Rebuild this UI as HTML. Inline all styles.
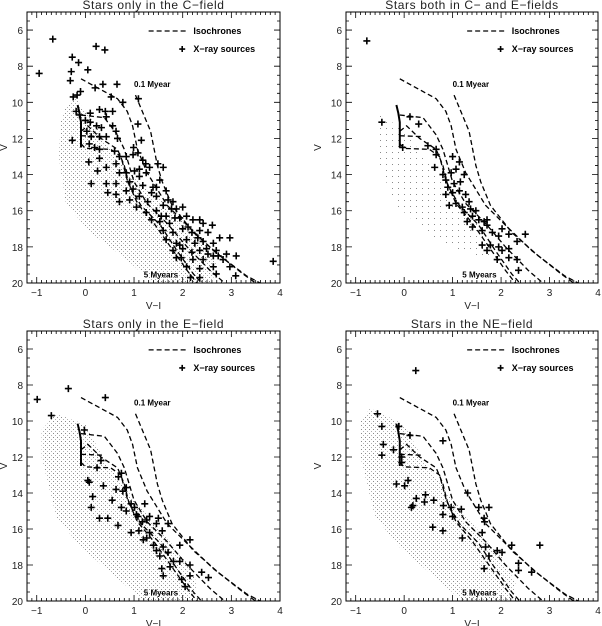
<!DOCTYPE html>
<html><head><meta charset="utf-8">
<style>
html,body{margin:0;padding:0;background:#fff;}
svg{display:block;}
text{font-family:"Liberation Sans",sans-serif;}
</style></head>
<body>
<svg id="chart" width="602" height="626" viewBox="0 0 602 626" xmlns="http://www.w3.org/2000/svg">
<defs>
<pattern id="stip" width="4" height="4" patternUnits="userSpaceOnUse"><rect x="1" y="1" width="1" height="1" fill="#8a8a8a"/><rect x="3" y="3" width="1" height="1" fill="#b0b0b0"/></pattern>
<pattern id="stip2" width="6" height="6" patternUnits="userSpaceOnUse"><rect x="2" y="2" width="1" height="1" fill="#8a8a8a"/></pattern>
</defs>
</svg>
<script>
// ---- data ----
const xTicks = [-1,0,1,2,3,4];
const yTicks = [6,8,10,12,14,16,18,20];
const panelTitles = ["Stars only in the C\u2212field","Stars both in C\u2212 and E\u2212fields","Stars only in the E\u2212field","Stars in the NE\u2212field"];
// isochrones (V-I, V)
const iso01 = [[1.03,9.6],[1.34,11.6],[1.48,13.5],[1.58,14.4],[1.78,15.7],[2.22,17.2],[2.77,18.5],[3.31,19.6],[3.8,20.3]];
const isoB = [[-0.09,8.7],[0.66,9.8],[0.86,10.5],[0.97,11.3],[1.07,12.6],[1.27,13.9],[1.68,15.7],[2.09,16.8],[2.63,18.2],[3.24,19.5],[3.6,20.2]];
const isoC = [[-0.09,10.7],[0.39,10.85],[0.66,11.8],[0.8,12.6],[0.9,13.5],[1.0,14.4],[1.27,15.6],[1.68,16.7],[2.09,18],[2.56,19.3],[2.95,20.2]];
const isoD = [[-0.09,11.6],[0.05,11.3],[0.32,12.0],[0.66,12.6],[0.8,13.5],[0.9,14.6],[1.14,15.7],[1.54,16.8],[1.88,18.2],[2.22,19.5],[2.45,20.2]];
const isoD2 = [[-0.09,11.85],[0.39,11.9]];
const iso5 = [[-0.09,12.3],[0.0,12.55],[0.52,12.6],[0.73,13.0],[0.86,14.3],[1.07,15.6],[1.41,16.7],[1.75,18],[2.09,19.3],[2.35,20.2]];
const solidTrack = [[-0.16,10.15],[-0.12,10.6],[-0.09,11.1],[-0.09,12.5]];
// field star cloud envelopes
const cloudTL = [[-0.4,10.2],[-0.2,9.8],[0.2,11.2],[0.6,13],[1.2,14.6],[1.8,16],[2.4,17.5],[2.7,19],[2.6,20],[1.4,20],[0.8,18.6],[0.1,17.2],[-0.4,15.6],[-0.55,13],[-0.5,11]];
const cloudTR = [[-0.5,10.6],[0,11.6],[0.5,13.3],[1.0,15.5],[1.6,17],[1.8,18.6],[1.2,18.3],[0.5,17.3],[-0.2,15.6],[-0.5,13.5]];
const cloudBL = [[-0.6,9.6],[0,10.2],[0.4,12.2],[0.9,14],[1.5,16],[2.0,17.5],[2.3,19],[2.2,20],[1.2,20],[0.6,18.6],[-0.1,17],[-0.6,15.3],[-0.9,12],[-0.9,10.5]];
const cloudBR = [[-0.7,9.3],[0,10.2],[0.4,12.2],[0.9,14],[1.5,16],[2.0,17.5],[2.3,19],[2.2,20],[1.2,20],[0.6,18.6],[-0.1,17],[-0.6,15.3],[-0.9,12],[-0.9,10]];
// X-ray sources
const xrayTL = [[-0.67,6.5],[-0.95,8.4],[-0.27,7.5],[-0.14,7.8],[-0.29,8.3],[-0.31,8.8],[0.05,8.2],[0.22,6.9],[0.4,7.1],[0.36,9.0],[0.65,9.0],[0.2,9.2],[-0.25,9.7],[-0.17,9.6],[-0.1,9.4],[0.53,9.7],[0.77,10.0],[1.08,11.2],[1.09,9.8],[-0.19,10.5],[-0.12,10.7],[0.1,10.6],[0.29,10.4],[0.41,10.5],[0.56,10.5],[0.43,10.8],[0,11.0],[0.1,11.1],[0.23,11.3],[0.33,11.4],[0.56,11.3],[0.63,11.6],[0.03,11.6],[0.12,11.9],[0.29,11.9],[0.43,11.9],[0.66,12.0],[-0.27,12.1],[0.08,12.3],[0.19,12.5],[0.29,12.6],[0.6,12.7],[0.7,13.0],[0.84,13.0],[0.99,12.5],[1.15,12.1],[0.98,12.9],[1.08,12.8],[1.18,13.2],[1.24,13.4],[0.07,13.3],[0.29,13.1],[0.43,13.6],[0.25,13.8],[0.63,13.4],[0.84,13.9],[1.01,13.8],[1.11,13.7],[1.32,13.6],[1.49,13.4],[1.6,13.6],[0.12,14.5],[0.43,14.5],[0.63,14.5],[0.7,13.9],[0.91,14.4],[1.11,14.1],[1.25,13.9],[0.46,15.0],[0.63,15.1],[0.84,14.9],[0.98,14.8],[1.18,14.6],[1.39,14.7],[1.53,14.3],[1.66,14.9],[0.7,15.5],[0.91,15.4],[1.11,15.2],[1.28,15.5],[1.46,15.2],[1.6,15.7],[1.8,15.5],[1.05,15.8],[1.25,16.1],[1.46,16.0],[1.66,16.3],[1.87,15.9],[2.0,15.8],[1.36,16.5],[1.53,16.6],[1.73,16.7],[1.94,16.4],[2.08,16.3],[2.21,16.5],[2.35,16.5],[2.42,16.7],[1.6,17.1],[1.8,17.2],[2.0,17.0],[2.19,17.2],[2.35,17.1],[2.52,17.2],[2.61,16.8],[1.66,17.6],[1.87,17.8],[2.08,17.6],[2.25,17.8],[2.42,17.7],[2.63,17.8],[2.76,17.5],[2.97,17.5],[1.8,18.2],[2.0,18.1],[2.19,18.3],[2.35,18.2],[2.52,18.4],[2.69,18.2],[2.9,18.4],[3.1,18.5],[1.97,18.6],[2.21,18.7],[2.42,18.7],[2.63,18.5],[2.83,18.7],[2.08,19.1],[2.35,19.2],[2.63,19.1],[2.97,19.1],[3.09,19.6],[2.69,19.5],[2.35,19.7],[3.86,18.8],[2.16,19.7],[1.46,14.7],[1.36,15.0],[1.7,15.4],[1.77,15.9],[1.56,16.3],[1.84,16.4],[2.11,16.9],[2.31,17.5],[1.94,17.9],[2.49,18.1],[2.73,18.5],[1.87,18.6]];
const xrayTR = [[-0.77,6.6],[-0.46,11.1],[0.12,10.8],[0.3,11.2],[-0.03,12.5],[0.49,12.4],[0.66,12.6],[0.63,13.6],[0.8,14.0],[0.86,14.3],[0.97,13.9],[1.0,13.0],[1.14,13.3],[0.9,14.7],[1.03,14.5],[1.16,14.4],[1.24,14.0],[0.86,15.1],[1.0,15.0],[1.14,14.9],[1.27,15.1],[1.34,15.5],[1.07,15.6],[0.93,15.7],[1.2,15.8],[1.37,15.9],[1.24,16.1],[1.48,16.0],[1.41,16.3],[1.54,16.5],[1.65,16.6],[1.71,16.5],[1.3,16.6],[1.41,16.9],[1.61,17.1],[1.71,16.8],[1.82,17.2],[2.02,17.0],[1.95,17.4],[2.16,17.3],[1.78,17.9],[1.61,17.9],[1.95,18.0],[2.02,18.2],[2.16,18.1],[2.33,17.7],[2.5,17.3],[1.71,18.2],[2.16,18.6],[2.33,18.7],[2.36,19.3],[1.92,18.7],[1.07,13.7],[0.66,12.9]];
const xrayBL = [[-0.99,8.8],[-0.7,9.7],[-0.35,8.2],[0.41,8.7],[-0.02,10.5],[0.32,12.2],[0.24,12.6],[0.05,13.3],[0.08,13.4],[0.15,14.2],[0.12,14.8],[0.29,15.4],[0.46,15.4],[0.67,15.8],[0.37,13.6],[0.63,13.8],[0.68,13.1],[0.74,12.9],[0.55,14.4],[0.77,13.9],[0.84,13.7],[0.74,14.8],[0.84,15.0],[0.94,14.6],[1.01,14.8],[1.05,15.2],[0.94,16.2],[1.08,15.3],[1.17,15.6],[1.26,15.5],[1.32,15.3],[1.46,15.7],[1.58,16.1],[1.7,15.7],[1.5,15.4],[1.22,14.6],[1.1,16.1],[1.26,16.5],[1.4,16.9],[1.46,17.2],[1.6,17.0],[1.7,17.3],[1.53,17.5],[1.32,16.2],[1.19,16.6],[1.81,17.8],[1.94,17.8],[1.94,16.9],[2.15,16.6],[1.74,18.1],[1.57,18.2],[1.6,18.6],[1.98,18.8],[2.05,19.2],[2.15,18.6],[2.39,18.4],[2.53,18.7],[2.15,18.0]];
const xrayBR = [[0.24,7.2],[-0.55,9.6],[-0.46,10.3],[-0.43,11.3],[-0.46,11.9],[-0.22,11.6],[-0.11,10.3],[0.12,10.8],[-0.05,12.0],[-0.05,12.3],[-0.16,13.5],[0.01,13.6],[0.08,13.3],[0.25,14.3],[0.18,14.7],[0.15,14.8],[0.44,14.1],[0.42,14.5],[0.61,14.4],[0.59,15.9],[0.8,11.1],[0.81,14.7],[0.8,15.2],[0.97,14.8],[1.0,15.3],[1.18,14.9],[0.8,16.1],[1.2,16.5],[1.31,14.0],[1.54,14.8],[1.75,14.8],[1.65,15.4],[1.61,16.2],[1.68,17.0],[1.75,17.5],[1.65,18.2],[1.92,17.2],[2.02,17.3],[2.22,16.9],[2.36,17.9],[2.36,18.3],[2.63,18.4],[2.8,16.9],[1.66,15.6]];

// ---- drawing ----
const NS="http://www.w3.org/2000/svg";
const svg=document.getElementById('chart');
const XMIN=-1.2, XMAX=4.0, YMIN=5, YMAX=20;
function mk(tag,attrs,parent){const e=document.createElementNS(NS,tag);for(const k in attrs)e.setAttribute(k,attrs[k]);(parent||svg).appendChild(e);return e;}
const panels=[
 {x0:27,x1:280,y0:12,y1:283,title:panelTitles[0],cloud:cloudTL,pat:'stip',xr:xrayTL,name:'panel-c-field'},
 {x0:346,x1:598,y0:12,y1:283,title:panelTitles[1],cloud:cloudTR,pat:'stip2',xr:xrayTR,name:'panel-c-and-e-fields'},
 {x0:27,x1:280,y0:331,y1:601,title:panelTitles[2],cloud:cloudBL,pat:'stip',xr:xrayBL,name:'panel-e-field'},
 {x0:346,x1:598,y0:331,y1:601,title:panelTitles[3],cloud:cloudBR,pat:'stip',xr:xrayBR,name:'panel-ne-field'}
];
panels.forEach(p=>{
  const g=mk('g',{});
  
  
  const sx=v=>p.x0+(v-XMIN)/(XMAX-XMIN)*(p.x1-p.x0);
  const sy=v=>p.y0+(v-YMIN)/(YMAX-YMIN)*(p.y1-p.y0);
  const cx=(p.x0+p.x1)/2;
  const t=mk('text',{x:cx,y:p.y0-3,'text-anchor':'middle','font-size':'12','letter-spacing':'0.6',fill:'#222'},g);
  t.textContent=p.title;
  
  
  const clip='c'+p.name;
  const cp=mk('clipPath',{id:clip},g); mk('rect',{x:p.x0,y:p.y0,width:p.x1-p.x0,height:p.y1-p.y0},cp);
  const inner=mk('g',{'clip-path':'url(#'+clip+')'},g);
  const cl=mk('polygon',{points:p.cloud.map(d=>sx(d[0])+','+sy(d[1])).join(' '),fill:'url(#'+p.pat+')'},inner);
  
  
  [iso01,isoB,isoC,isoD,isoD2,iso5].forEach(arr=>{
    const l=mk('polyline',{points:arr.map(d=>sx(d[0])+','+sy(d[1])).join(' '),fill:'none',stroke:'#000','stroke-width':'1.3','stroke-dasharray':'5,3'},inner);
    
    
  });
  const st=mk('polyline',{points:solidTrack.map(d=>sx(d[0])+','+sy(d[1])).join(' '),fill:'none',stroke:'#000','stroke-width':'2'},inner);
  
  
  p.xr.forEach(d=>{
    const X=sx(d[0]),Y=sy(d[1]);
    const c=mk('path',{d:`M${X-3.5},${Y}H${X+3.5}M${X},${Y-3.5}V${Y+3.5}`,stroke:'#000','stroke-width':'1.6'},inner);
    
    
  });
  const a=mk('text',{x:sx(1.0),y:sy(9.15),'font-size':'8','font-weight':'bold','font-family':'Liberation Serif, serif'},g);
  a.textContent='0.1 Myear';
  
  
  const b=mk('text',{x:sx(1.2),y:sy(19.7),'font-size':'8','font-weight':'bold','font-family':'Liberation Serif, serif'},g);
  b.textContent='5 Myears';
  
  
  const lg=mk('g',{},g);
  
  
  mk('line',{x1:sx(1.3),x2:sx(2.12),y1:sy(6.05),y2:sy(6.05),stroke:'#000','stroke-width':'1.2','stroke-dasharray':'5,3'},lg);
  const l1=mk('text',{x:sx(2.22),y:sy(6.05)+3,'font-size':'9','font-weight':'bold','font-family':'Liberation Serif, serif'},lg);
  l1.textContent='Isochrones';
  
  
  const X=sx(1.99),Y=sy(7.05);
  mk('path',{d:`M${X-3},${Y}H${X+3}M${X},${Y-3}V${Y+3}`,stroke:'#000','stroke-width':'1.6'},lg);
  const l2=mk('text',{x:sx(2.22),y:Y+3,'font-size':'9','font-weight':'bold','font-family':'Liberation Serif, serif'},lg);
  l2.textContent='X\u2212ray sources';
  
  
  mk('rect',{x:p.x0,y:p.y0,width:p.x1-p.x0,height:p.y1-p.y0,fill:'none',stroke:'#000','stroke-width':'1'},g);
  let tk='';
  for(let i=-12;i<=40;i++){const v=i/10;if(v<XMIN||v>XMAX)continue;const X2=sx(v);const L=(i%10===0)?6:3;tk+=`M${X2},${p.y1}v${-L}M${X2},${p.y0}v${L}`;}
  for(let i=10;i<=40;i++){const v=i/2;const Y2=sy(v);const L=(i%4===0)?6:3;tk+=`M${p.x0},${Y2}h${L}M${p.x1},${Y2}h${-L}`;}
  mk('path',{d:tk,stroke:'#000','stroke-width':'0.8',fill:'none'},g);
  xTicks.forEach(v=>{const tt=mk('text',{x:sx(v),y:p.y1+13,'text-anchor':'middle','font-size':'10',fill:'#222'},g);tt.textContent=v<0?'\u2212'+(-v):String(v);
    
    });
  yTicks.forEach(v=>{const tt=mk('text',{x:p.x0-4,y:sy(v)+4,'text-anchor':'end','font-size':'10',fill:'#222'},g);tt.textContent=String(v);
    
    });
  const xl=mk('text',{x:cx,y:p.y1+26,'text-anchor':'middle','font-size':'10',fill:'#222'},g);
  xl.textContent='V\u2212I';
  
  
  const yx=p.x0-(p.x0<100?20:25), yy=(p.y0+p.y1)/2;
  const yl=mk('text',{x:yx,y:yy,'text-anchor':'middle','font-size':'10',fill:'#222',transform:`rotate(-90 ${yx} ${yy})`},g);
  yl.textContent='V';
  
  
});
</script>
</body></html>
